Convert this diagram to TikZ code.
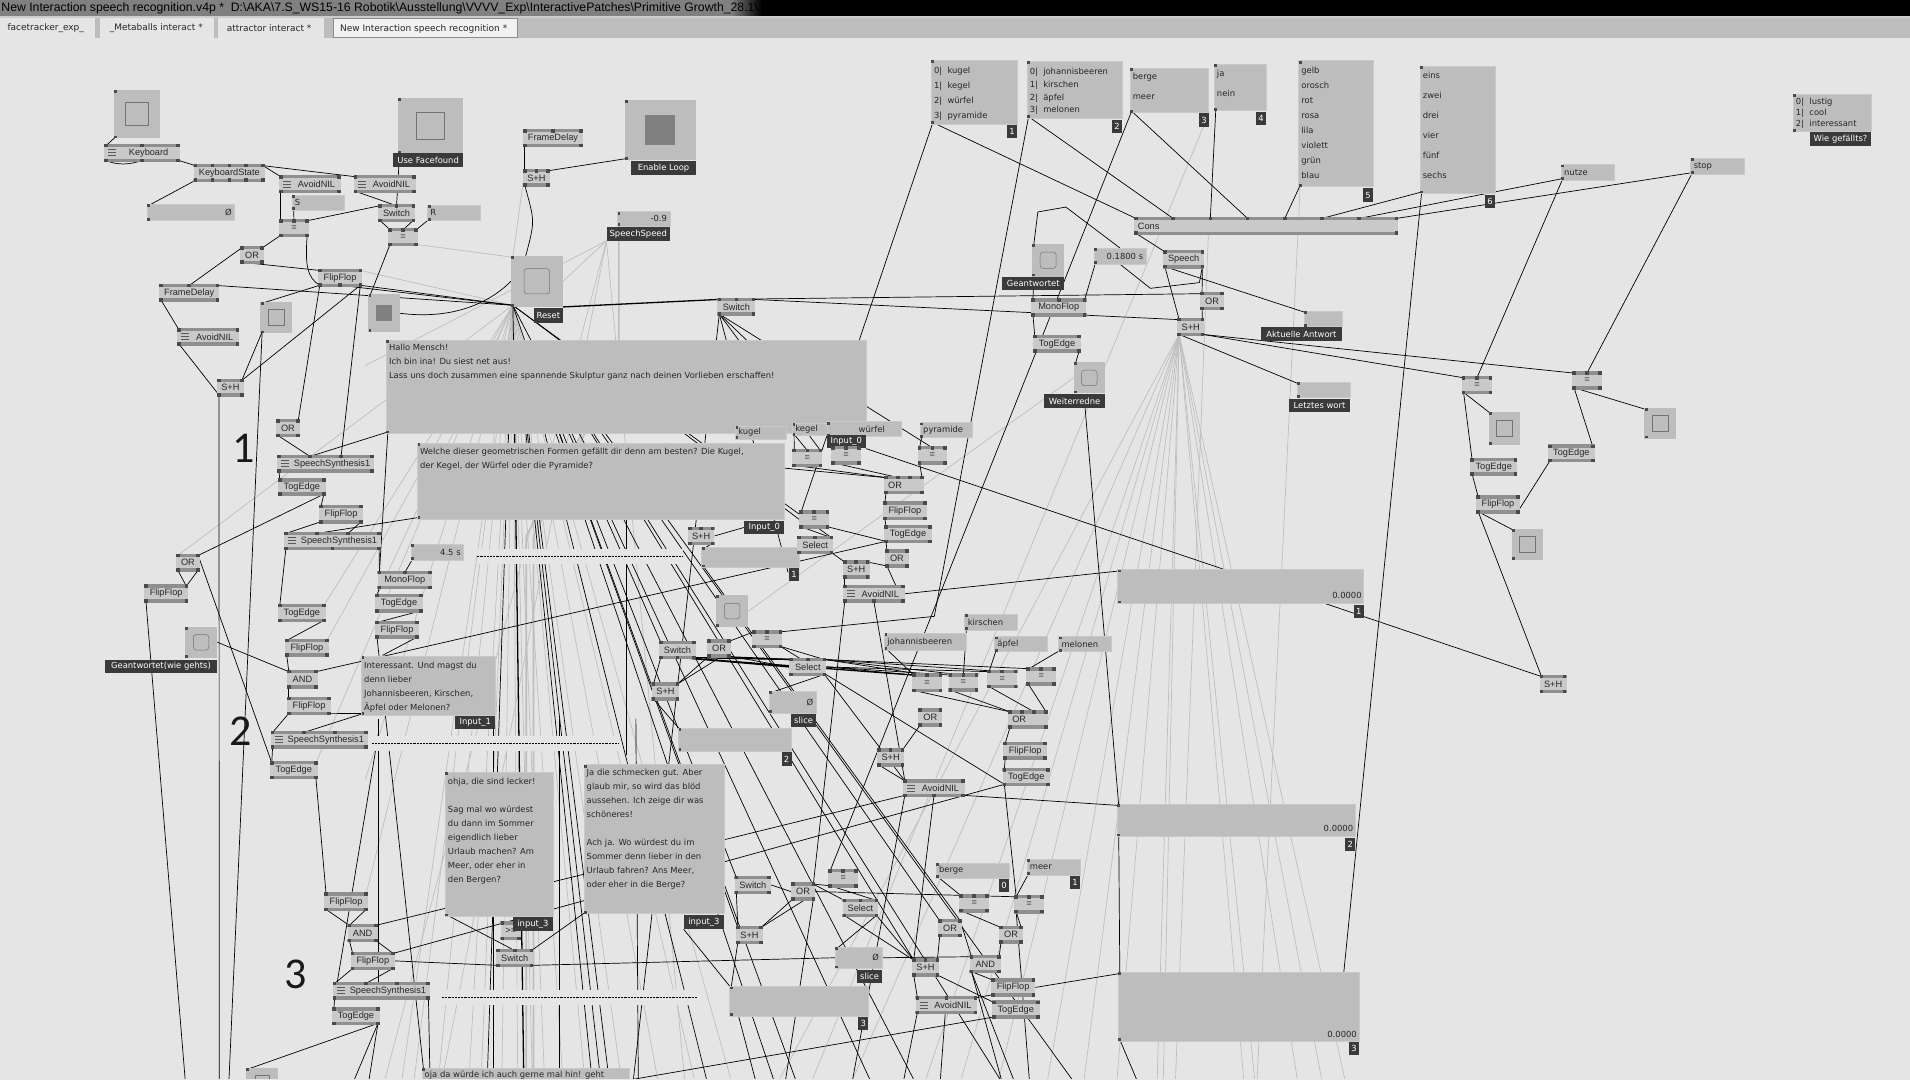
\documentclass[tikz,border=0pt]{standalone}
\usepackage{fontspec}
\setmainfont{Liberation Sans}
\newfontfamily\pf{DejaVu Sans}
\newfontfamily\bigf{Carlito}
\usetikzlibrary{calc}
\pgfdeclarelayer{canvas}\pgfdeclarelayer{wires}\pgfsetlayers{canvas,wires,main}
\definecolor{vbody}{HTML}{C9C9C9}\definecolor{vb}{HTML}{8F8F8F}\definecolor{vpn}{HTML}{4A4A4A}
\definecolor{vpanel}{HTML}{BDBDBD}\definecolor{vbg}{HTML}{E5E5E5}\definecolor{vdark}{HTML}{3A3A3A}
\definecolor{vgw}{HTML}{BEBEBE}
\tikzset{
 vvbox/.style={fill=vbody,inner sep=0pt,font=\fontsize{9.2}{10}\selectfont,text=black!85},
 vbar/.style={fill=vb},vpin/.style={fill=vpn},
 panel/.style={fill=vpanel,inner sep=0pt,draw=vbody,line width=.6pt,font=\pf\fontsize{8.4}{10}\selectfont,text=black!85},
 pantxt/.style={inner sep=0pt,align=left,anchor=north west,text=black!85},
 vtag/.style={fill=vdark,inner sep=0pt,text=white,font=\pf\fontsize{8.4}{10}\selectfont},
 wire/.style={draw=black,line width=.7pt},
 wireb/.style={draw=black,line width=1.3pt},
 wireg/.style={draw=vgw,line width=.7pt},
 wiregb/.style={draw=vgw,line width=1.6pt},
 bigd/.style={font=\bigf\fontsize{44}{44}\selectfont,inner sep=0pt,text=black!90},
 tabx/.style={font=\pf\fontsize{9}{10}\selectfont,inner sep=0pt,anchor=west,text=black!85},
 dashband/.style={fill=vbg,inner sep=0pt},
 sqt/.style={draw=black!55,line width=.5pt},sqb/.style={draw=black!55,line width=.5pt,rounded corners=3pt},sqf/.style={fill=black!50},
}
\newcommand\Vpins[6]{\pgfmathtruncatemacro\nn{#6-1}\foreach \i in {0,...,\nn}{\pgfmathsetmacro\px{#2+1.5+(#4-#2-3)*\i/max(\nn,1)}\coordinate (#1-#5\i) at (\px,#3);\fill[vpin] ([shift={(-1.8pt,-1.8pt)}]#1-#5\i) rectangle ([shift={(1.8pt,1.8pt)}]#1-#5\i);}}
\newcommand\Vn[8]{\pgfmathsetmacro\vw{(#4-#2)*1.218}\pgfmathsetmacro\vh{(#5-#3)*1.218}%
 \node[vvbox,minimum width=\vw pt,minimum height=\vh pt] (#1) at ({(#2+#4)/2},{(#3+#5)/2}) {#8};%
 \fill[vbar] (#1.north west) rectangle ([yshift=-3.6pt]#1.north east);%
 \fill[vbar] (#1.south west) rectangle ([yshift=3.6pt]#1.south east);%
 \pgfmathsetmacro\ya{#3+1.4}\pgfmathsetmacro\yb{#5-1.4}%
 \Vpins{#1}{#2}{\ya}{#4}{t}{#6}\Vpins{#1}{#2}{\yb}{#4}{b}{#7}}
\newcommand\Vi[8]{\Vn{#1}{#2}{#3}{#4}{#5}{#6}{#7}{\hspace*{13pt}#8}%
 \foreach \k in {-3,0,3}{\draw[line width=1pt,black!65] ([shift={(4.5pt,\k pt)}]#1.west) -- ++(8pt,0);}}
\newcommand\Vpanpins[5]{\pgfmathsetmacro\ya{#3+1.2}\pgfmathsetmacro\yb{#5-1.2}\pgfmathsetmacro\xa{#2+1.4}%
 \coordinate (#1-t0) at (\xa,\ya);\coordinate (#1-b0) at (\xa,\yb);%
 \fill[vpin] ([shift={(-1.4pt,-1.4pt)}]#1-t0) rectangle ([shift={(1.4pt,1.4pt)}]#1-t0);%
 \fill[vpin] ([shift={(-1.4pt,-1.4pt)}]#1-b0) rectangle ([shift={(1.4pt,1.4pt)}]#1-b0);}
\newcommand\Vp[7]{\pgfmathsetmacro\vw{(#4-#2)*1.218}\pgfmathsetmacro\vh{(#5-#3)*1.218}\pgfmathsetmacro\vtw{\vw-6}%
 \node[panel,minimum width=\vw pt,minimum height=\vh pt,text width=\vtw pt,align=#6] (#1) at ({(#2+#4)/2},{(#3+#5)/2}) {#7};%
 \Vpanpins{#1}{#2}{#3}{#4}{#5}}
\newcommand\Vm[8]{\pgfmathsetmacro\vw{(#4-#2)*1.218}\pgfmathsetmacro\vh{(#5-#3)*1.218}%
 \node[panel,minimum width=\vw pt,minimum height=\vh pt] (#1) at ({(#2+#4)/2},{(#3+#5)/2}) {};%
 \Vpanpins{#1}{#2}{#3}{#4}{#5}%
 \pgfmathsetmacro\xt{#2+2.2}\node[pantxt,font=\pf\fontsize{8.4}{#6}\selectfont] (#1-txt) at (\xt,{#7+2}) {#8};}
\newcommand\Vs[6]{\pgfmathsetmacro\vw{(#4-#2)*1.218}\pgfmathsetmacro\vh{(#5-#3)*1.218}%
 \node[fill=vpanel,inner sep=0pt,minimum width=\vw pt,minimum height=\vh pt] (#1) at ({(#2+#4)/2},{(#3+#5)/2}) {};%
 \Vpanpins{#1}{#2}{#3}{#4}{#5}%
 \pgfmathsetmacro\iw{min(\vw,\vh)*.5}%
 \node[#6,inner sep=0pt,minimum width=\iw pt,minimum height=\iw pt] (#1-in) at (#1.center) {};}
\newcommand\Vt[6]{\pgfmathsetmacro\vw{(#4-#2)*1.218}\pgfmathsetmacro\vh{(#5-#3)*1.218}%
 \node[vtag,minimum width=\vw pt,minimum height=\vh pt] (#1) at ({(#2+#4)/2},{(#3+#5)/2}) {#6};}
\newcommand\W[1]{\foreach \a/\b in {#1}{\draw[wire] (\a) -- (\b);}}
\newcommand\Wb[1]{\foreach \a/\b in {#1}{\draw[wireb] (\a) -- (\b);}}
\newcommand\Wg[1]{\foreach \a/\b in {#1}{\draw[wireg] (\a) -- (\b);}}
\newcommand\Fan[3]{\foreach \fx/\fy in {#3}{\coordinate (fe) at (\fx,\fy);\draw[#2] (#1) -- (fe);}}
\newcommand\FanH[3]{\foreach \fx/\fy in {#3}{\coordinate (fe) at (\fx,\fy);\coordinate (fs) at ($(#1)!.09!(fe)$);\draw[#2] (fs) -- (fe);}}
\newcommand\NodeH[3]{\foreach \ft in {#3}{\coordinate (fs) at ($(#1)!.13!(\ft)$);\draw[#2] (fs) -- (\ft);}}
\newcommand\Ff[2]{\foreach \fa/\fb/\fc/\fd in {#2}{\coordinate (fs) at (\fa,\fb);\coordinate (fe) at (\fc,\fd);\draw[#1] (fs) -- (fe);}}
\newcommand\Dash[4]{\pgfmathsetmacro\vw{(#3-#2)*1.218+6}\node[dashband,minimum width=\vw pt,minimum height=15pt] (#1) at ({(#2+#3)/2},#4) {};\draw[black,line width=.7pt,dash pattern=on 2.2pt off 1pt] (#1.west) -- (#1.east);}
\begin{document}
\begin{tikzpicture}[x=1.218pt,y=-1.218pt]
\useasboundingbox (0,0) rectangle (1568,886);
\begin{pgfonlayer}{canvas}
\fill[vbg] (0,0) rectangle (1568,886);
\fill[black] (0,0) rectangle (1568,13.5);
\fill[black!50] (0,0) rectangle (600,13.5);
\shade[left color=black!50,right color=black] (600,0) rectangle (625,13.5);
\fill[black!20] (0,13.5) rectangle (1568,14.5);
\fill[black!26] (0,14.5) rectangle (1568,31);
\end{pgfonlayer}
\node[inner sep=0pt,anchor=west,font=\fontsize{12.25}{14}\selectfont,text=black] (title) at (1,7) {New Interaction speech recognition.v4p *\ \ D:\textbackslash AKA\textbackslash 7.S\_WS15-16 Robotik\textbackslash Ausstellung\textbackslash VVVV\_Exp\textbackslash InteractivePatches\textbackslash Primitive Growth\_28.1\textbackslash};
\fill[vbg] (0,15) rectangle (78,31);\fill[vbg] (82,15) rectangle (176,31);\fill[vbg] (179,15) rectangle (266,31);
\fill[black!5,draw=black!45,line width=.6pt] (274,15) rectangle (425,31);
\node[tabx] (tab1) at (6,23.5) {facetracker\_exp\_};
\node[tabx] (tab2) at (90,23.5) {\_Metaballs interact *};
\node[tabx] (tab3) at (186,23.5) {attractor interact *};
\node[tabx] (tab4) at (279,24) {New Interaction speech recognition *};
% ---- upper left
\Vs{tgA}{93.5}{73.9}{131.4}{113.6}{sqt}
\Vi{kb}{85.5}{118.2}{147.8}{133}{3}{3}{Keyboard}
\Vn{ks}{159}{134.6}{217.5}{149.4}{5}{5}{KeyboardState}
\Vi{anA}{229}{143.7}{280}{158.5}{2}{2}{AvoidNIL}
\Vi{anB}{290.5}{143.7}{341.5}{158.5}{2}{2}{AvoidNIL}
\Vp{sS}{239.6}{160}{283}{172.4}{left}{S}
\Vp{sO}{120.6}{167.5}{192.7}{181.2}{right}{Ø}
\Vn{eqa}{229}{179.8}{253.7}{194.6}{3}{2}{=}
\Vn{sw1}{310.3}{167.5}{340.8}{182.3}{3}{2}{Switch}
\Vp{sR}{350.9}{168.3}{394}{181.2}{left}{R}
\Vn{eqb}{318.7}{187.2}{343.2}{202}{3}{2}{=}
\Vn{or1}{197}{202}{216.8}{216.7}{2}{2}{OR}
\Vn{ff1}{261}{220.6}{297.3}{235.6}{2}{3}{FlipFlop}
\Vn{fdL}{130.7}{233}{180}{247.7}{3}{2}{FrameDelay}
\Vs{tgB}{213.8}{247.7}{239.6}{273.7}{sqt}
\Vs{bgD}{302.3}{241.6}{328.4}{272.8}{sqf}
\Vi{anL}{145.4}{269.3}{196.4}{283.8}{2}{2}{AvoidNIL}
\Vs{uf}{326.7}{80.7}{380}{125.9}{sqt}
\Vt{ufl}{323}{125.9}{380}{136.8}{Use Facefound}
\Vn{fdT}{429.3}{105.9}{478.6}{120.7}{3}{2}{FrameDelay}
\Vn{shT}{429.3}{138.8}{451.4}{153.3}{3}{2}{S+H}
\Vs{el}{512.7}{82}{571.4}{131.4}{sqf}
\Vt{ell}{518}{132.5}{571.4}{143.4}{Enable Loop}
\Vs{reset}{419.6}{210}{462}{251.8}{sqb}
\Vt{resetl}{438.3}{253}{462}{265}{Reset}
\Vp{sp}{506.7}{173.8}{550}{185.5}{right}{-0.9}
\Vt{spl}{498}{186.6}{550}{197.6}{SpeechSpeed}
% ---- top lists
\Vm{l1}{764.4}{49.3}{835}{101.8}{15}{53}{0|\ \ kugel\\1|\ \ kegel\\2|\ \ würfel\\3|\ \ pyramide}
\Vt{l1t}{826.8}{102.6}{835}{113}{1}
\Vm{l2}{843}{50.4}{921.3}{97}{12.9}{53.5}{0|\ \ johannisbeeren\\1|\ \ kirschen\\2|\ \ äpfel\\3|\ \ melonen}
\Vt{l2t}{912.9}{98.5}{921.3}{109}{2}
\Vm{l3}{927.6}{56}{992.3}{92.5}{20.2}{58}{berge\\meer}
\Vt{l3t}{984.6}{93}{992.3}{104}{3}
\Vm{l4}{996.7}{52.8}{1039.6}{90.9}{20.7}{55}{ja\\nein}
\Vt{l4t}{1031}{91.7}{1039.6}{102.6}{4}
\Vm{l5}{1066}{49.8}{1127}{153.3}{15}{53}{gelb\\orosch\\rot\\rosa\\lila\\violett\\grün\\blau}
\Vt{l5t}{1119}{154.7}{1127}{165.6}{5}
\Vm{l6}{1165.7}{54.2}{1227.3}{158.8}{20}{57}{eins\\zwei\\drei\\vier\\fünf\\sechs}
\Vt{l6t}{1219.3}{160}{1227.3}{170.5}{6}
\Vm{lg}{1472}{77.2}{1536}{108.1}{11}{78.5}{0|\ \ lustig\\1|\ \ cool\\2|\ \ interessant}
\Vt{lgl}{1486}{108.7}{1536}{120}{Wie gefällts?}
\Vp{nutze}{1281.6}{135}{1325}{147.8}{left}{nutze}
\Vp{stop}{1388}{130}{1431.8}{142.9}{left}{stop}
\Vn{cons}{931}{177.9}{1147.9}{192.9}{8}{2}{}
\node[inner sep=0pt,anchor=west,font=\fontsize{9.2}{10}\selectfont,text=black!85] (consl) at (934,185.5) {Cons};
\Vs{gea}{847.2}{200.3}{873.7}{227}{sqb}
\Vt{geal}{822.7}{227.7}{873.7}{238}{Geantwortet}
\Vp{t18}{898}{203.9}{941}{216.7}{right}{0.1800 s}
\Vn{spe}{954.8}{205.3}{988.6}{220.3}{2}{2}{Speech}
\Vn{swM}{589}{244.4}{620}{259.2}{3}{2}{Switch}
\Vn{moR}{846.5}{245}{891.8}{260}{3}{2}{MonoFlop}
\Vn{orR}{985.3}{239.7}{1004.7}{254.5}{2}{2}{OR}
\Vn{shR}{966.5}{261}{988.6}{275.9}{2}{2}{S+H}
\Vn{teR}{848}{275}{887.4}{289.5}{2}{2}{TogEdge}
\Vp{akt}{1070.5}{255.4}{1101.7}{268.2}{left}{}
\Vt{aktl}{1035}{268.8}{1101.7}{279.7}{Aktuelle Antwort}
\Vp{let}{1064.8}{313.9}{1108.4}{326.5}{left}{}
\Vt{letl}{1058}{327.9}{1108.4}{338.3}{Letztes wort}
\Vs{wei}{881.4}{297.5}{907}{323}{sqb}
\Vt{weil}{857.3}{323.8}{907}{334.7}{Weiterredne}
% ---- right
\Vn{eqA}{1200}{308.7}{1225}{323.5}{3}{2}{=}
\Vn{eqB}{1290.7}{304.9}{1315}{319.7}{3}{2}{=}
\Vs{tgR1}{1222}{338}{1248}{365}{sqt}
\Vs{tgR2}{1350}{335}{1376}{360}{sqt}
\Vs{tgR3}{1241}{434}{1267}{460}{sqt}
\Vn{teA}{1207}{376}{1245.5}{390.5}{2}{2}{TogEdge}
\Vn{ffA}{1212}{406.5}{1247.5}{421.5}{2}{2}{FlipFlop}
\Vn{teB}{1271}{365}{1309}{379.5}{2}{2}{TogEdge}
\Vn{shZ}{1264}{554}{1286}{569}{2}{2}{S+H}
% ---- level 1
\Vn{shL}{178.3}{310.9}{200}{325.7}{2}{2}{S+H}
\Vn{or3}{226.5}{344}{246.3}{358.8}{2}{2}{OR}
\Vm{hallo}{317}{279}{710.8}{355.8}{14}{280.5}{Hallo Mensch!\\Ich bin ina! Du siest net aus!\\Lass uns doch zusammen eine spannende Skulptur ganz nach deinen Vorlieben erschaffen!}
\Vp{kug}{603.6}{349.8}{645.5}{360.5}{left}{kugel}
\Vi{ss1}{227.5}{373.3}{307}{388}{4}{2}{SpeechSynthesis1}
\Vn{te1}{228.2}{392.5}{267.4}{407}{2}{2}{TogEdge}
\Vn{ff2}{262}{414.4}{298}{429.7}{2}{2}{FlipFlop}
\Vi{ss2}{233.2}{436.5}{312.7}{451.6}{4}{3}{SpeechSynthesis1}
\Vm{welche}{342.5}{363.7}{643.8}{426}{14}{365.5}{Welche dieser geometrischen Formen gefällt dir denn am besten? Die Kugel,\\der Kegel, der Würfel oder die Pyramide?}
\Vp{t45}{337.5}{446.7}{380.7}{459.8}{right}{4.5 s}
\Dash{da1}{394.4}{558}{456.8}
\Vn{or2}{144.4}{454.6}{164.2}{469.4}{2}{2}{OR}
\Vn{ffL}{118.3}{479.8}{154.5}{494.8}{2}{2}{FlipFlop}
\Vn{mo1}{310}{468.6}{354.6}{483.6}{3}{2}{MonoFlop}
\Vn{te2}{308}{487.5}{347.2}{502.8}{2}{2}{TogEdge}
\Vn{ff5}{308}{509.6}{344}{524.4}{2}{2}{FlipFlop}
\Vn{te3}{228.2}{495.6}{267.4}{510.7}{2}{2}{TogEdge}
\Vn{ff3}{233.9}{524.4}{270}{539.2}{2}{2}{FlipFlop}
\Vs{bgG}{151.8}{514.5}{178.3}{540}{sqb}
\Vt{bgGl}{86}{541.9}{178.3}{552.3}{Geantwortet(wie gehts)}
\Vn{and1}{235.6}{550}{261}{565.2}{2}{2}{AND}
\Vn{ff4}{235.6}{572}{271.8}{587}{2}{2}{FlipFlop}
\Vm{inte}{296.6}{538.6}{406.5}{587}{14}{541}{Interessant. Und magst du\\denn lieber\\Johannisbeeren, Kirschen,\\Äpfel oder Melonen?}
\Vt{intel}{373.7}{587.6}{406.5}{598.5}{Input\_1}
\Vn{shS}{564.7}{432.4}{586.5}{447.5}{3}{2}{S+H}
\Vt{in0a}{611}{427.5}{643.8}{438.5}{Input\_0}
\Vm{b1}{575.8}{449.4}{656}{465.8}{10}{452}{}
\Vt{b1t}{647.8}{466.6}{656}{477}{1}
\Vn{swL}{541}{526}{571.4}{541}{2}{3}{Switch}
\Vn{orM}{580.4}{525}{600.2}{540}{2}{2}{OR}
\Vn{shM}{535}{560.2}{557.6}{575.3}{2}{2}{S+H}
\Vs{bgM}{587.8}{488.8}{614.3}{514.5}{sqb}
% ---- word column
\Vp{keg}{650.5}{347.6}{679}{357.7}{left}{kegel}
\Vp{wur}{679}{346.2}{740.3}{358.5}{right}{würfel\hspace*{14pt}}
\Vt{in0b}{678.6}{357.2}{710.8}{368.1}{Input\_0}
\Vp{pyr}{755.4}{346.8}{798.6}{359.4}{left}{pyramide}
\Vn{eqK}{650.5}{368.4}{675}{383.4}{3}{2}{=}
\Vn{eqW}{682.3}{366.2}{706.8}{381.3}{3}{2}{=}
\Vn{eqP}{753.4}{366.2}{777.5}{381.3}{3}{2}{=}
\Vn{orQ}{725.9}{390.6}{758.4}{405.6}{4}{2}{OR\hspace*{18pt}}
\Vn{ffQ}{724.9}{411.6}{760.8}{427}{2}{2}{FlipFlop}
\Vn{teQ}{725.9}{431}{765}{445.8}{2}{2}{TogEdge}
\Vn{eqS}{656.2}{418.8}{680.7}{433.8}{3}{2}{=}
\Vn{selQ}{654.5}{440}{684}{455}{3}{2}{Select}
\Vn{orS}{726.6}{451}{746}{466}{2}{2}{OR}
\Vn{shQ}{692}{460}{713.8}{475}{3}{2}{S+H}
\Vi{anQ}{692}{480}{742.7}{494.8}{2}{3}{AvoidNIL}
\Vm{big1}{917.6}{467.5}{1119.5}{495.4}{10}{482}{}
\node[inner sep=0pt,font=\pf\fontsize{8.4}{10}\selectfont,anchor=east,text=black!85] (big1v) at (1118,489) {0.0000};
\Vt{big1t}{1111.5}{497}{1119.5}{507.5}{1}
\Vp{joh}{726}{520}{793}{533.7}{left}{johannisbeeren}
\Vp{kir}{792}{504.4}{834.8}{517.3}{left}{kirschen}
\Vp{apf}{816.4}{522.5}{859.6}{535}{left}{äpfel}
\Vp{mel}{869}{522.5}{912.2}{535}{left}{melonen}
\Vn{eqM}{617.3}{517.3}{642.1}{532}{3}{2}{=}
\Vn{selM}{648}{540}{678.3}{555}{3}{2}{Select}
\Vn{eq1}{748.7}{552.8}{773.5}{568.2}{3}{2}{=}
\Vn{eq2}{778.8}{552.8}{803}{568}{3}{2}{=}
\Vn{eq3}{810.4}{550}{835.2}{565}{3}{2}{=}
\Vn{eq4}{842.5}{548}{867}{562.7}{3}{2}{=}
\Vp{sl1}{631.4}{567.4}{670}{585.2}{right}{Ø}
\Vt{sl1t}{649.5}{586}{670}{597}{slice}
\Vn{orF}{754}{581.6}{773.5}{596.5}{2}{2}{OR}
\Vn{orG}{827.8}{583}{860.3}{598}{4}{2}{OR\hspace*{18pt}}
% ---- level 2
\Vm{b2}{556.8}{597.7}{649.8}{616.8}{10}{600}{}
\Vt{b2t}{641.7}{617.7}{649.8}{628.6}{2}
\Vn{ffG}{823.7}{608.9}{859.6}{623.7}{2}{2}{FlipFlop}
\Vn{teG}{823}{630.5}{862}{645.3}{2}{2}{TogEdge}
\Vn{shN}{720}{614.4}{742.3}{629.4}{3}{2}{S+H}
\Vi{anN}{741.3}{639.6}{792.2}{654.3}{2}{3}{AvoidNIL}
\Vm{big2}{917}{660}{1112.5}{686.6}{10}{670}{}
\node[inner sep=0pt,font=\pf\fontsize{8.4}{10}\selectfont,anchor=east,text=black!85] (big2v) at (1111,680.5) {0.0000};
\Vt{big2t}{1104.5}{688}{1112.5}{698.5}{2}
\Vi{ss5}{222.3}{599.9}{302}{614.7}{4}{2}{SpeechSynthesis1}
\Dash{da2}{307.8}{505}{610}
\Vn{te5}{221.6}{624.8}{260.8}{639.6}{2}{2}{TogEdge}
\Vm{ohja}{365.4}{634}{454}{752.3}{14}{636.5}{ohja, die sind lecker!\\[14pt]Sag mal wo würdest\\du dann im Sommer\\eigendlich lieber\\Urlaub machen? Am\\Meer, oder eher in\\den Bergen?}
\Vn{ge}{411}{756.4}{427.7}{771.7}{2}{2}{>=}
\Vt{ohjal}{421}{753}{454}{764}{input\_3}
\Vm{ja}{479.3}{627.8}{594.3}{750}{14}{629.5}{Ja die schmecken gut. Aber\\glaub mir, so wird das blöd\\aussehen. Ich zeige dir was\\schöneres!\\[14pt]Ach ja. Wo würdest du im\\Sommer denn lieber in den\\Urlaub fahren? Ans Meer,\\oder eher in die Berge?}
\Vt{jal}{561.4}{751.5}{594.3}{762.7}{input\_3}
\Vn{ff6}{266.2}{732.6}{302}{748}{2}{2}{FlipFlop}
\Vn{and2}{285.3}{758.3}{310}{773.4}{2}{2}{AND}
\Vn{ff7}{288}{781.3}{324.2}{796.4}{2}{2}{FlipFlop}
\Vi{ss6}{273.2}{806}{353}{820.7}{4}{2}{SpeechSynthesis1}
\Vn{te6}{272.6}{826.8}{311.8}{841.5}{2}{2}{TogEdge}
\Vn{sw3}{407.3}{778.9}{437.8}{793.9}{3}{2}{Switch}
\Dash{da3}{365.4}{570.2}{818.5}
% ---- level 3
\Vn{swO}{603}{719}{633}{734}{2}{2}{Switch}
\Vn{orO}{649.4}{724.4}{669.2}{739.4}{2}{2}{OR}
\Vn{eq7}{680}{713.4}{704.4}{728.5}{3}{2}{=}
\Vn{selO}{691.7}{737.8}{721}{752.9}{3}{2}{Select}
\Vn{shO}{604.2}{760}{626.3}{775}{2}{2}{S+H}
\Vp{ber}{768.4}{708.5}{828.4}{721}{left}{berge}
\Vt{bert}{820.3}{721.7}{828.4}{732.6}{0}
\Vp{mee}{843}{705.2}{886.7}{718.4}{left}{meer}
\Vt{meet}{878.3}{719}{886.7}{730}{1}
\Vn{eq8}{787.5}{734}{812}{749}{3}{2}{=}
\Vn{eq9}{832.7}{734.8}{857}{749.8}{3}{2}{=}
\Vn{orH}{770}{754.5}{789.8}{769.3}{2}{2}{OR}
\Vn{orI}{820.3}{760}{839.8}{774.8}{2}{2}{OR}
\Vn{and3}{796}{784}{821.7}{799}{2}{2}{AND}
\Vn{sh3}{748.6}{786.8}{771}{801.8}{3}{2}{S+H}
\Vp{sl2}{685.6}{777.5}{724}{795}{right}{Ø}
\Vt{sl2t}{703.7}{796}{724}{807}{slice}
\Vn{ff8}{813.6}{803.2}{849.8}{818}{2}{2}{FlipFlop}
\Vi{an3}{751.6}{817.7}{802.2}{832.5}{3}{2}{AvoidNIL}
\Vn{te8}{814.3}{821.5}{853.5}{836.3}{2}{2}{TogEdge}
\Vm{b3}{598.8}{809.8}{712.8}{833.9}{10}{812}{}
\Vt{b3t}{704.7}{834.7}{712.8}{845.6}{3}
\Vm{big3}{917.9}{798}{1115.5}{854.7}{10}{810}{}
\node[inner sep=0pt,font=\pf\fontsize{8.4}{10}\selectfont,anchor=east,text=black!85] (big3v) at (1114,849) {0.0000};
\Vt{big3t}{1107.5}{855.5}{1115.5}{866}{3}
\Vs{tgZ}{202}{876.5}{228.3}{900}{sqt}
\Vm{bot}{346.3}{876.8}{517}{900}{14}{877}{oja da würde ich auch gerne mal hin! geht}
\fill[vbg] (0,886) rectangle (1568,905);
\node[bigd] (n1) at (200,368) {1};
\node[bigd] (n2) at (197.5,600) {2};
\node[bigd] (n3) at (243,800) {3};
\begin{pgfonlayer}{wires}
% gray wires
\Fan{shR-b0}{wireg}{917/886,950/886,955/886,1021/886,1065/886,1104/886,640/886,700/886,760/886,789/886,820/886,860/886,890/886,1030/886,1085/886}
\Fan{reset-b0}{wireg}{330/886,360/886,385/886,395/886,412/886,425/886,437/886,447/886,462/886,480/886,510/886,540/886,570/886,600/886,300/640,340/886}
\Wg{eqb-b1/reset-t0, ff1-t1/reset-b0, shT-t0/reset-t0, reset-b0/or2-t0, reset-b0/te3-t1, reset-b0/te2-t0, reset-b0/ff3-t1, reset-b0/te5-t1, reset-b0/ff6-t1, wei.west/bgM.east, spl.south west/reset.east}
\Fan{spl.south west}{wireg}{300/300,316/886,363/886,562/886}
\coordinate (spA) at (508,197);\coordinate (spB) at (508,300);\coordinate (spC) at (432,440);\coordinate (spD) at (432,886);
\draw[wiregb] (spA) -- (spB) -- (spC) -- (spD);
\coordinate (spE) at (438,440);\coordinate (spF) at (438,886);
\draw[wiregb] (spB) -- (spE) -- (spF);
\Fan{l3t.north east}{wireg}{667/886}
\Fan{l5-b0}{wireg}{1032/886}
\Ff{wireg}{992/192/965/886}
% black: upper left
\W{tgA-b0/kb-t0, kb-b2/ks-t0, ks-b0/sO-t0, ks-t4/anA-t0, ks-t4/anB-t0, anA-b0/eqa-t0, sS-b0/eqa-t1, anB-b0/sw1-t1, uf-b0/sw1-t1, eqa-t2/sw1-t0, sw1-b0/eqb-t0, sw1-b1/eqb-t1, sR-b0/eqb-t2, eqa-b0/or1-t1, or1-t0/fdL-t1, or1-b0/ff1-t0, eqb-b0/bgD-t0, fdT-b0/shT-t0, shT-t2/el-b0, fdL-t2/reset-b0, ff1-b0/tgB-t0, ff1-b2/shL-t1, ff1-b2/ss1-t2, ff1-b0/or3-t1, ff1-b2/reset-b0, ff1-b1/reset-b0, fdL-b0/anL-t0, anL-b0/shL-b0, tgB-b0/shL-t1}
\draw[wire] (kb-b0) .. controls +(8,4) and +(-10,4) .. (kb-b1);
\draw[wire] (eqa-b1) .. controls +(-2,25) and +(-10,-6) .. (ff1-b0);
\draw[wire] (bgD.east) .. controls +(40,5) and +(-20,20) .. (reset.west);
\coordinate (resTop) at (431.6,210);
\draw[wire] (shT-b0) .. controls +(8,30) and +(8,-30) .. (resTop);
\Fan{shL-b0}{wire}{180/886}
\Fan{tgB-b0}{wire}{188/886}
\Fan{ffL-b0}{wire}{152/886}
\W{or3-b0/ss1-t1, hallo-b0/ss1-t1, hallo-b0/mo1-t0, ss1-b0/te1-t0, te1-b1/ff2-t0, te1-b1/or2-t1, ff2-b0/ss2-t0, ff2-b1/ss2-t2, welche-b0/ss2-t1, ss2-b0/te3-t0, ss2-b2/mo1-t0, t45-b0/mo1-t1, mo1-b0/te2-t0, te2-b1/ff5-t0, te3-b1/ff3-t0, ff3-b0/and1-t0, and1-b0/ff4-t0, and1-t1/teQ-b0, ff4-b1/inte-b0, ff4-b0/ss5-t0, inte-b0/ss5-t1, bgG.east/and1-t0, or2-b0/ffL-t1, or2-b1/ffL-t1, or2-t1/te5-t0, ss5-b0/te5-t0, te5-b1/ff6-t0, ff6-b0/and2-t0, ff6-b1/and2-t0, and2-t1/anN-b0, and2-b0/ff7-t0, and2-b1/ff7-t1, ff7-b0/ss6-t0, ff7-b1/ss6-t1, ss6-b0/te6-t0, te6-b1/tgZ-t0, ohja-b0/sw3-t1, ja-b0/sw3-t2, ff7.east/sw3-b0, sw3-b1/sl2.west, sl2.east/and3-t0, ff5-b0/bot-t0}
\coordinate (j5) at (314,538);\draw[wire] (ff5-b1) -- (j5);
\Fan{te6-b1}{wire}{303/886,291/886}
\Fan{ss6-b0}{wire}{311/600}
\Fan{ss6-t3}{wire}{353/886}
% black: lists
\W{l1-b0/cons-t0, l1-b0/eqS-t0, l2-b0/cons-t1, l3-b0/cons-t3, l3-b0/eq7-t0, l4-b0/cons-t2, l5-b0/cons-t4, l6-b0/cons-t5, nutze-b0/cons-t6, stop-b0/cons-t7, nutze-b0/eqA-t1, stop-b0/eqB-t1}
\coordinate (j2) at (767,506);\draw[wire] (l2-b0) -- (j2) -- (eqM-t2);
\Fan{l6-b0}{wire}{1103/800}
\W{cons-b0/spe-t0, spe-b1/orR-t0, spe-b0/shR-t0, orR-b0/shR-t1, spe-b0/akt-t0, t18-b0/moR-t2, gea-b0/moR-t0, moR-b0/teR-t0, teR-b1/wei-t0, big2-b0/big3-t0, shR-b1/eqA-t0, shR-b1/eqB-t0, shR-b0/let-t0, swM-t2/shR-t0, swM-t0/orR-t0}
\coordinate (gp1) at (852,174);\coordinate (gp2) at (875,170);\draw[wire] (gea-t0) -- (gp1) -- (gp2) -- (t18.north);
\coordinate (tp1) at (944.4,236.7);\coordinate (tp2) at (984.6,232);\draw[wire] (t18.south) -- (tp1) -- (tp2) -- (spe-b1);
\coordinate (weib) at (890.8,335);\draw[wire] (weib) -- (big2-t0);
\Fan{big3-b0}{wire}{933/886}
\Wb{reset.south east/swM-t0}
\W{eqB-b0/tgR2-t0, eqB-b0/teB-t1, eqA-b0/tgR1-t0, eqA-b0/teA-t0, teA-b0/ffA-t0, ffA-b0/tgR3-t0, ffA-b1/teB-b0, ffA-b0/shZ-t0, in0b.south east/shZ-t0}
% black: word column
\W{keg-b0/eqK-t0, keg-b0/eqK-t1, wur-b0/eqW-t0, pyr-b0/eqP-t0, swM-b0/eqK-t2, swM-b0/eqW-t2, swM-b0/eqP-t1, eqK-b0/orQ-t0, eqW-b0/orQ-t1, eqP-b0/orQ-t3, orQ-b0/ffQ-t0, ffQ-b0/teQ-t0, teQ-b0/orS-t0, eqS-b1/teQ-b0, eqS-b0/selQ-t2, selQ-b1/shQ-t0, shQ-t2/orS-b0, shQ-b0/anQ-t0, orS-b0/anQ-b2, anQ.east/big1-t0, anQ-b0/orO-t1, anQ-b1/anN-t0, shS.east/in0a.west, b1-t0/shS-b1, reset-b0/selQ-t2, reset-b0/eqS.west, b1-b0/orH-t1}
\NodeH{reset-b0}{wire}{orH-t0,sh3-t0,swL-t0,swO-t0,shO-t0}
\Fan{swM-b0}{wire}{520/886,647/470}
\Ff{wire}{630/383/725.9/392}
\W{joh-b0/eq1-t0, kir-b0/eq2-t1, apf-b0/eq3-t0, mel-b0/eq4-t0, selM-t2/eq1-t1, selM-t2/eq2-t1, selM-t2/eq3-t1, selM-t2/eq4-t1, selM.east/eq1-t0, selM.east/eq2-t0, selM.east/eq3-t0, eqM-b1/selM-t2, eqM-t0/orM-t1, orM-b1/selM.west, shM-t1/orM-b0, shM-t1/orM.south, swL-b0/shM-t0, shM-b0/b2-t0, selM-b1/sl1-t0, selM-b1/anN-t0, eq1-b0/orG-t0, eq2-b0/orG-t0, eq3-b0/orG-t2, eq4-b0/orG-t3, orF-b0/shN-t2, shN-b0/anN-t0, orG-b0/ffG-t0, ffG-b0/teG-t0, teG-b0/ff7-t1, anN-b2/big2-t0, teG-b0/eq9-t0, eqM-b1/teG-b0}
\Wb{swL-b1/selM-t0, swL-b1/selM.west, orM-b0/selM-t0, swL-b1/eq1-t0}
\Fan{anN-b0}{wire}{700/886}
\Fan{reset-b0}{wire}{422/300,635/886,750/886}
\FanH{reset-b0}{wire}{400/886,486/886,493/886,580/886,653/886,714/886,821/886,880/886,500/886}
\FanH{reset-b0}{wireb}{430/886}
\Ff{wire}{514/426/514/620,311/590/311/806,405/590/405/886,459/590/459/886,522/590/524/886}
% black: level 3
\W{swO-b0/shO-t0, swO.east/orO.west, shO-t1/orO-b0, shO-t1/orO.south, shO-b0/b3-t0, jal.south west/b3-t0, orO.east/eq9-t0, orO-t1/eq7-b0, eq7-b0/selO-t2, orO-t1/selO-t0, selO-b1/sl2-t0, selO-b1/sh3-t0, selO-b0/sh3-t0, ber-b0/eq8-t0, mee-b0/eq9-t0, eq8-b0/orI-t0, eq9-b0/orI-t1, orH-b0/sh3-t2, orH-t1/and3-t0, orI-b0/and3-t1, and3-b0/ff8-t0, ff8.east/big3-t0, ff8-b0/an3-t2, sh3-b0/an3-t0, sh3-b1/te8-t0, anN-b1/sh3-t0}
\Fan{orO-b1}{wire}{645/886}
\Fan{te8-b0}{wire}{520/886}
\Fan{and3-b0}{wire}{832/886,822/886}
\Fan{eq9-b0}{wire}{845/886}
\Fan{an3-b0}{wire}{742/886}
\Fan{an3-t1}{wire}{772/886}
\Fan{b3-t0}{wire}{620/886}
\end{pgfonlayer}
\end{tikzpicture}
\end{document}
